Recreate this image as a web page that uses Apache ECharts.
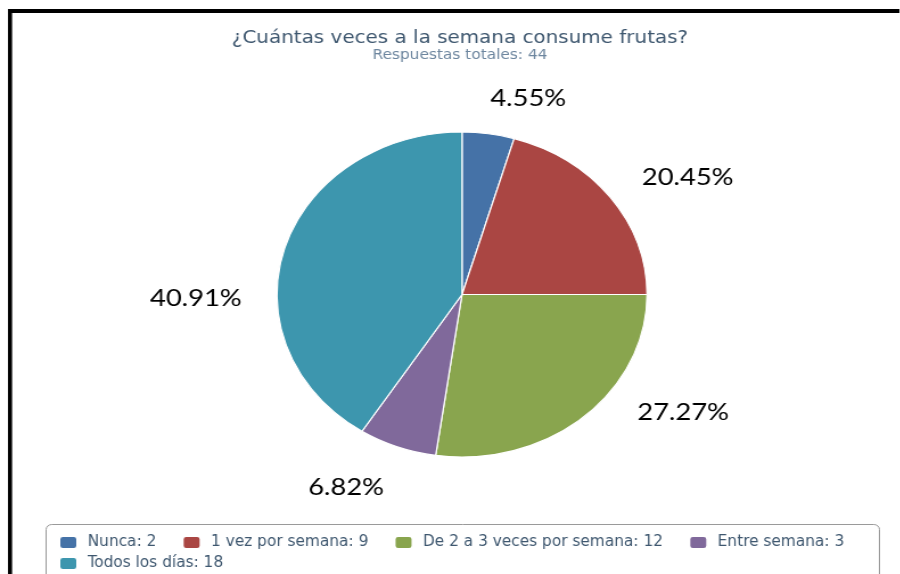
<!DOCTYPE html>
<html>
<head>
<meta charset="utf-8">
<script src="https://cdn.jsdelivr.net/npm/echarts@6/dist/echarts.min.js"></script>
<style>
  html, body { margin: 0; padding: 0; background: #fff; overflow: hidden; }
  #wrap { width: 900px; height: 574px; overflow: hidden; position: relative; background: #fff; }
  /* the chart is drawn at its natural width and widened to the page */
  #chart { position: absolute; left: 0; top: 0; width: 791px; height: 574px;
           transform: scaleX(1.1385); transform-origin: 0 0; }
</style>
</head>
<body>
<div id="wrap"><div id="chart"></div></div>
<script>
// Survey answers
const categories = ['Nunca', '1 vez por semana', 'De 2 a 3 veces por semana', 'Entre semana', 'Todos los días'];
const counts = [2, 9, 12, 3, 18];
const titleText = '¿Cuántas veces a la semana consume frutas?';
const subtitlePrefix = 'Respuestas totales: ';

// Styling
const sliceColors = ['#4572A7', '#AA4643', '#89A54E', '#80699B', '#3D96AE'];
const legendNames = categories.map((c, i) => c + ': ' + counts[i]);
const total = counts.reduce((a, b) => a + b, 0);
// where each percentage label sits (chart coordinates)
const labelSpots = [[464, 98], [604, 177], [600, 412], [304, 487], [172, 298]];

const chart = echarts.init(document.getElementById('chart'), null, { renderer: 'canvas' });

const legendText = {
  fontFamily: '"DejaVu Sans Condensed", "Liberation Sans Narrow", "DejaVu Sans", sans-serif',
  fontSize: 15,
  color: '#3E576F',
  padding: [0, 0, 0, 4]
};

chart.setOption({
  animation: false,
  backgroundColor: '#ffffff',
  color: sliceColors,
  legend: [
    {
      data: legendNames.slice(0, 4),
      left: 51, top: 535, padding: 0,
      itemWidth: 16, itemHeight: 13, itemGap: 22,
      icon: 'roundRect',
      textStyle: legendText,
      selectedMode: false
    },
    {
      data: legendNames.slice(4),
      left: 51, top: 556, padding: 0,
      itemWidth: 16, itemHeight: 13, itemGap: 22,
      icon: 'roundRect',
      textStyle: legendText,
      selectedMode: false
    }
  ],
  graphic: [
    // frame lines along the top and left
    { type: 'rect', shape: { x: 7, y: 9, width: 783, height: 4 }, style: { fill: '#000' }, z: 10 },
    { type: 'rect', shape: { x: 7, y: 9, width: 3.6, height: 565 }, style: { fill: '#000' }, z: 10 },
    // legend box
    { type: 'rect', shape: { x: 40.5, y: 524.5, width: 732, height: 80, r: 5 },
      style: { fill: 'none', stroke: '#9a9a9a', lineWidth: 1 }, z: -1 },
    { type: 'text', x: 404, y: 38.5,
      style: { text: titleText, font: '17.5px "DejaVu Sans", sans-serif', fill: '#3E576F',
               align: 'center', verticalAlign: 'middle', textAlign: 'center', textVerticalAlign: 'middle' } },
    { type: 'text', x: 404, y: 55,
      style: { text: subtitlePrefix + total, font: '13.5px "DejaVu Sans", sans-serif', fill: '#6D869F',
               align: 'center', verticalAlign: 'middle', textAlign: 'center', textVerticalAlign: 'middle' } }
  ],
  series: [{
    type: 'pie',
    center: [405.8, 294.5],
    radius: 162.5,
    startAngle: 90,
    clockwise: true,
    avoidLabelOverlap: false,
    itemStyle: { borderColor: '#ffffff', borderWidth: 1.2 },
    label: {
      show: true,
      formatter: '{d}%',
      fontFamily: 'Lato, "Open Sans", sans-serif',
      fontSize: 24,
      color: '#000'
    },
    labelLine: { show: false },
    labelLayout: function (p) {
      const s = labelSpots[p.dataIndex];
      return { x: s[0], y: s[1], align: 'center', verticalAlign: 'middle' };
    },
    emphasis: { disabled: true },
    data: categories.map((c, i) => ({ name: legendNames[i], value: counts[i] }))
  }]
});
</script>
</body>
</html>
